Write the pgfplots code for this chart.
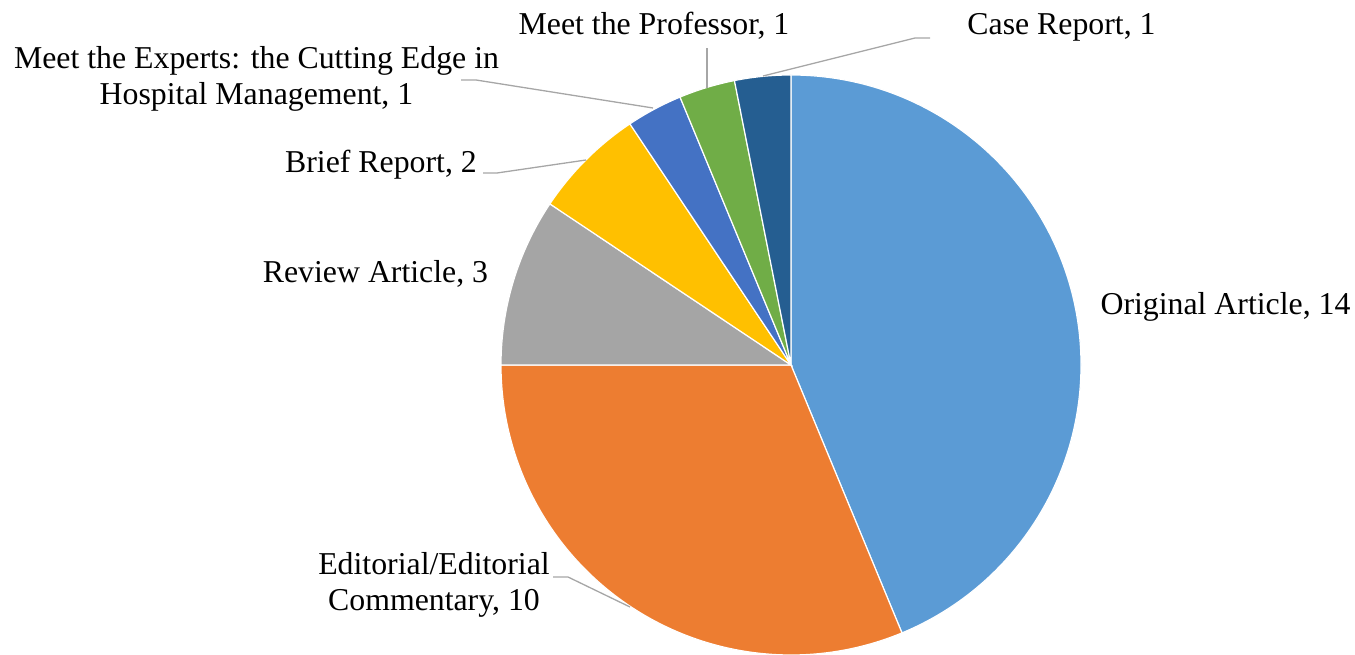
\documentclass[border=0pt]{standalone}
\usepackage{pgfplots}
\pgfplotsset{compat=1.18}
\usepackage{fontspec}
\setmainfont{Liberation Serif}
\definecolor{origc}{HTML}{5B9BD5}
\definecolor{edc}{HTML}{ED7D31}
\definecolor{revc}{HTML}{A5A5A5}
\definecolor{briefc}{HTML}{FFC000}
\definecolor{expc}{HTML}{4472C4}
\definecolor{profc}{HTML}{70AD47}
\definecolor{casec}{HTML}{255E91}
\definecolor{leadc}{HTML}{A6A6A6}
% counts: Original 14, Editorial 10, Review 3, Brief 2, Experts 1, Professor 1, Case 1 (total 32)
% slice angle = count/32*360, clockwise from 90 degrees
\begin{document}
\begin{tikzpicture}[lab/.style={font=\fontsize{31.8}{36}\selectfont, inner sep=0pt, anchor=base}]
\begin{axis}[
  at={(0,0)}, anchor=south west,
  width=1355pt, height=655pt, scale only axis,
  xmin=0, xmax=1355, ymin=-655, ymax=0,
  hide axis, clip=false]
\coordinate (bl) at (axis cs:0,-655);
\coordinate (tr) at (axis cs:1355,0);
\coordinate (c) at (axis cs:791,-365);
% slices
\fill[origc, draw=white, line width=1.2pt] (c) -- ++(90:290pt) arc[start angle=90, end angle=-67.5, radius=290pt] -- cycle;
\fill[edc, draw=white, line width=1.2pt] (c) -- ++(-67.5:290pt) arc[start angle=-67.5, end angle=-180, radius=290pt] -- cycle;
\fill[revc, draw=white, line width=1.2pt] (c) -- ++(-180:290pt) arc[start angle=-180, end angle=-213.75, radius=290pt] -- cycle;
\fill[briefc, draw=white, line width=1.2pt] (c) -- ++(-213.75:290pt) arc[start angle=-213.75, end angle=-236.25, radius=290pt] -- cycle;
\fill[expc, draw=white, line width=1.2pt] (c) -- ++(-236.25:290pt) arc[start angle=-236.25, end angle=-247.5, radius=290pt] -- cycle;
\fill[profc, draw=white, line width=1.2pt] (c) -- ++(-247.5:290pt) arc[start angle=-247.5, end angle=-258.75, radius=290pt] -- cycle;
\fill[casec, draw=white, line width=1.2pt] (c) -- ++(-258.75:290pt) arc[start angle=-258.75, end angle=-270, radius=290pt] -- cycle;
% leader lines
\draw[leadc, line width=1.3pt] (axis cs:763,-76) -- (axis cs:915,-38) -- (axis cs:930,-38);
\draw[leadc, line width=1.3pt] (axis cs:707,-88) -- (axis cs:707,-48);
\draw[leadc, line width=1.3pt] (axis cs:653,-108) -- (axis cs:476,-80) -- (axis cs:461,-80);
\draw[leadc, line width=1.3pt] (axis cs:586,-160) -- (axis cs:497,-173) -- (axis cs:483,-173);
\draw[leadc, line width=1.3pt] (axis cs:630,-607) -- (axis cs:568,-577) -- (axis cs:553,-577);
% labels
\node[lab] at (axis cs:1225.5,-315) {Original Article, 14};
\node[lab] at (axis cs:434,-575) {Editorial/Editorial};
\node[lab] at (axis cs:434,-611) {Commentary, 10};
\node[lab] at (axis cs:375.5,-283) {Review Article, 3};
\node[lab] at (axis cs:381,-173) {Brief Report, 2};
\node[lab] at (axis cs:256.5,-69) {Meet the Experts: the Cutting Edge in};
\node[lab] at (axis cs:256.5,-105) {Hospital Management, 1};
\node[lab] at (axis cs:654,-35) {Meet the Professor, 1};
\node[lab] at (axis cs:1061.5,-35) {Case Report, 1};
\end{axis}
\pgfresetboundingbox
\path[use as bounding box] (bl) rectangle (tr);
\end{tikzpicture}
\end{document}
